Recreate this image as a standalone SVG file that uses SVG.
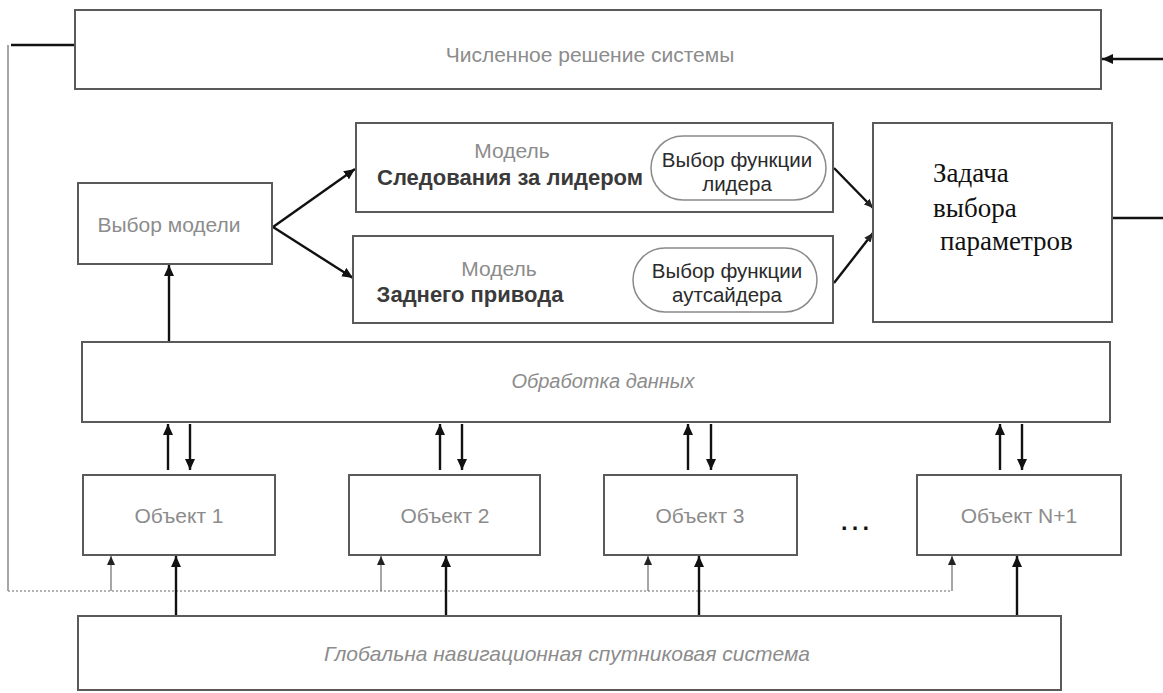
<svg xmlns="http://www.w3.org/2000/svg" width="1163" height="693" viewBox="0 0 1163 693">
  <style>
    .box { fill: #fff; stroke: #5a5a5a; stroke-width: 2; }
    .pill { fill: #fff; stroke: #8a8a8a; stroke-width: 1.5; }
    .lbl { font-family: "Liberation Sans", Arial, sans-serif; font-size: 21px; fill: #8c8c8c; text-anchor: middle; }
    .it { font-style: italic; }
    .bold { font-weight: bold; fill: #3a3a3a; font-size: 22px; }
    .dark { fill: #2a2a2a; font-size: 20.5px; }
    .serif { font-family: "Liberation Serif", "Times New Roman", serif; font-size: 27px; fill: #111; }
    .arr { fill: none; stroke: #111; stroke-width: 2.4; }
    .thin { fill: none; stroke: #777; stroke-width: 1.3; }
    .dot { fill: none; stroke: #999; stroke-width: 1.3; stroke-dasharray: 2 2; }
  </style>
  <defs>
    <marker id="ah" markerUnits="userSpaceOnUse" markerWidth="12" markerHeight="10" refX="11" refY="5" orient="auto">
      <path d="M0,0 L11,5 L0,10 z" fill="#111"/>
    </marker>
    <marker id="ahs" markerUnits="userSpaceOnUse" markerWidth="10" markerHeight="8" refX="9" refY="4" orient="auto">
      <path d="M0,0 L9,4 L0,8 z" fill="#222"/>
    </marker>
  </defs>
  <rect width="1163" height="693" fill="#fff"/>

  <!-- connectors -->
  <g id="connectors">
    <!-- feedback loop on the left -->
    <line x1="11" y1="45" x2="75" y2="45" class="arr"/>
    <line x1="8" y1="45" x2="8" y2="591" class="thin" stroke="#888"/>
    <line x1="8" y1="591" x2="952" y2="591" class="dot"/>
    <!-- input into the top box -->
    <line x1="1163" y1="59" x2="1102" y2="59" class="arr" marker-end="url(#ah)"/>
    <!-- output of the parameter task -->
    <line x1="1112" y1="218" x2="1163" y2="218" class="arr"/>
    <!-- model selection -->
    <line x1="273" y1="227" x2="355" y2="169" class="arr" marker-end="url(#ah)"/>
    <line x1="273" y1="227" x2="353" y2="278" class="arr" marker-end="url(#ah)"/>
    <line x1="169" y1="342" x2="169" y2="265" class="arr" marker-end="url(#ah)"/>
    <!-- models to parameter task -->
    <line x1="834" y1="168" x2="873" y2="208" class="arr" stroke-width="1.8" marker-end="url(#ahs)"/>
    <line x1="834" y1="283" x2="873" y2="233" class="arr" stroke-width="1.8" marker-end="url(#ahs)"/>
    <!-- objects <-> data processing -->
    <line x1="168" y1="470" x2="168" y2="424" class="arr" marker-end="url(#ah)"/>
    <line x1="190" y1="424" x2="190" y2="470" class="arr" marker-end="url(#ah)"/>
    <line x1="440" y1="470" x2="440" y2="424" class="arr" marker-end="url(#ah)"/>
    <line x1="462" y1="424" x2="462" y2="470" class="arr" marker-end="url(#ah)"/>
    <line x1="688" y1="470" x2="688" y2="424" class="arr" marker-end="url(#ah)"/>
    <line x1="711" y1="424" x2="711" y2="470" class="arr" marker-end="url(#ah)"/>
    <line x1="1000" y1="470" x2="1000" y2="424" class="arr" marker-end="url(#ah)"/>
    <line x1="1022" y1="424" x2="1022" y2="470" class="arr" marker-end="url(#ah)"/>
    <!-- feedback into objects -->
    <line x1="111" y1="591" x2="111" y2="556" class="thin" marker-end="url(#ahs)"/>
    <line x1="381" y1="591" x2="381" y2="556" class="thin" marker-end="url(#ahs)"/>
    <line x1="648" y1="591" x2="648" y2="556" class="thin" marker-end="url(#ahs)"/>
    <line x1="952" y1="591" x2="952" y2="556" class="thin" marker-end="url(#ahs)"/>
    <!-- GNSS into objects -->
    <line x1="176" y1="616" x2="176" y2="556" class="arr" marker-end="url(#ah)"/>
    <line x1="446" y1="616" x2="446" y2="556" class="arr" marker-end="url(#ah)"/>
    <line x1="699" y1="616" x2="699" y2="556" class="arr" marker-end="url(#ah)"/>
    <line x1="1017" y1="616" x2="1017" y2="556" class="arr" marker-end="url(#ah)"/>
  </g>

  <g id="numeric-solution">
    <rect x="75" y="10" width="1026" height="79" class="box"/>
    <text x="590" y="62" class="lbl">Численное решение системы</text>
  </g>

  <g id="model-choice">
    <rect x="78" y="183" width="194" height="81" class="box"/>
    <text x="169" y="232" class="lbl">Выбор модели</text>
  </g>

  <g id="leader-model">
    <rect x="356" y="123" width="477" height="89" class="box"/>
    <text x="512" y="158" class="lbl">Модель</text>
    <text x="510" y="185" class="lbl bold">Следования за лидером</text>
    <rect x="651" y="136" width="175" height="64" rx="32" class="pill"/>
    <text x="737" y="167" class="lbl dark">Выбор функции</text>
    <text x="737" y="191" class="lbl dark">лидера</text>
  </g>

  <g id="rear-model">
    <rect x="353" y="236" width="480" height="87" class="box"/>
    <text x="499" y="276" class="lbl">Модель</text>
    <text x="470" y="302" class="lbl bold">Заднего привода</text>
    <rect x="633" y="248" width="184" height="64" rx="32" class="pill"/>
    <text x="727" y="278" class="lbl dark">Выбор функции</text>
    <text x="727" y="302" class="lbl dark">аутсайдера</text>
  </g>

  <g id="parameter-task">
    <rect x="873" y="123" width="239" height="199" class="box"/>
    <text x="933" y="182" class="serif">Задача</text>
    <text x="933" y="217" class="serif">выбора</text>
    <text x="940" y="250" class="serif">параметров</text>
  </g>

  <g id="data-processing">
    <rect x="82" y="342" width="1028" height="80" class="box"/>
    <text x="603" y="388" class="lbl it" style="font-size:20px">Обработка данных</text>
  </g>

  <g id="object-1">
    <rect x="83" y="475" width="192" height="80" class="box"/>
    <text x="179" y="523" class="lbl">Объект 1</text>
  </g>
  <g id="object-2">
    <rect x="349" y="475" width="191" height="80" class="box"/>
    <text x="445" y="523" class="lbl">Объект 2</text>
  </g>
  <g id="object-3">
    <rect x="604" y="475" width="193" height="80" class="box"/>
    <text x="700" y="523" class="lbl">Объект 3</text>
  </g>
  <text x="855" y="530" class="lbl" style="fill:#111;font-size:34px">…</text>
  <g id="object-n1">
    <rect x="917" y="475" width="204" height="80" class="box"/>
    <text x="1019" y="523" class="lbl">Объект N+1</text>
  </g>

  <g id="gnss">
    <rect x="78" y="616" width="983" height="74" class="box"/>
    <text x="567" y="661" class="lbl it">Глобальна навигационная спутниковая система</text>
  </g>
</svg>
